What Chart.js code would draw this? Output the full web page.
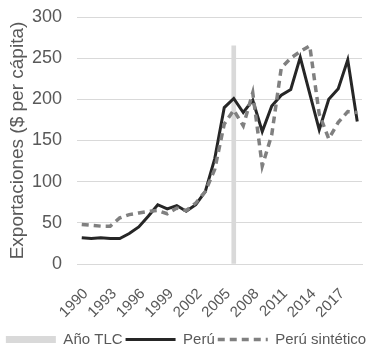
<!DOCTYPE html>
<html>
<head>
<meta charset="utf-8">
<script src="https://cdn.jsdelivr.net/npm/chart.js@4/dist/chart.umd.min.js"></script>
<style>
  html, body { margin: 0; padding: 0; background: #ffffff; }
  #wrap { width: 372px; height: 347px; }
</style>
</head>
<body>
<div id="wrap"><canvas id="chart"></canvas></div>
<script>
// Years on the category axis (every third one is labelled)
const years = ['1990','1991','1992','1993','1994','1995','1996','1997','1998','1999',
               '2000','2001','2002','2003','2004','2005','2006','2007','2008','2009',
               '2010','2011','2012','2013','2014','2015','2016','2017','2018','2019'];

// Exports per capita, Peru (observed)
const peru = [32, 31, 32, 31, 31, 37, 45, 58, 72, 67,
              71, 64, 72, 88, 128, 190, 201, 184, 199, 161,
              192, 205, 212, 251, 207, 163, 200, 213, 248, 173];

// Exports per capita, synthetic Peru
const peruSintetico = [48, 47, 46, 46, 56, 60, 62, 64, 65, 61,
                       68, 65, 74, 88, 115, 170, 187, 168, 208, 119,
                       157, 238, 250, 258, 265, 182, 152, 172, 185, 184];

// Year the trade agreement marker is drawn at, and the marker's height
const tlcYear = '2006';
const tlcHeight = 265;

// Y axis ticks
const yMin = 0, yMax = 300, yStep = 50;

const tlcData = years.map(y => (y === tlcYear ? tlcHeight : null));

const textColor = '#595959';
const fontFamily = "'Liberation Sans', Arial, sans-serif";

// Moves the legend row lower inside its box
const legendShift = {
  id: 'legendShift',
  afterLayout(chart) {
    const lg = chart.legend;
    if (lg) { lg.top += 10; lg.bottom += 10; }
  }
};

new Chart(document.getElementById('chart'), {
  data: {
    labels: years,
    datasets: [
      {
        type: 'bar',
        label: 'Año TLC',
        data: tlcData,
        backgroundColor: '#d9d9d9',
        borderWidth: 0,
        barThickness: 4,
        order: 2
      },
      {
        type: 'line',
        label: 'Perú',
        data: peru,
        borderColor: '#262626',
        borderWidth: 3,
        pointRadius: 0,
        tension: 0,
        fill: false,
        order: 1
      },
      {
        type: 'line',
        label: 'Perú sintético',
        data: peruSintetico,
        borderColor: '#808080',
        borderWidth: 3.5,
        borderDash: [7, 5],
        pointRadius: 0,
        tension: 0,
        fill: false,
        order: 0
      }
    ]
  },
  options: {
    responsive: true,
    maintainAspectRatio: false,
    animation: false,
    devicePixelRatio: 1,
    layout: { padding: { top: 17, left: 0, right: 0, bottom: 0 } },
    plugins: {
      tooltip: { enabled: false },
      legend: {
        position: 'bottom',
        labels: {
          color: textColor,
          font: { family: fontFamily, size: 15 },
          usePointStyle: true,
          pointStyleWidth: 50,
          padding: 3,
          generateLabels(chart) {
            const ds = chart.data.datasets;
            return [
              { text: ds[0].label, pointStyle: 'line', strokeStyle: '#d9d9d9', fillStyle: '#d9d9d9',
                lineWidth: 7, lineDash: [], lineCap: 'butt', fontColor: textColor, datasetIndex: 0 },
              { text: ds[1].label, pointStyle: 'line', strokeStyle: ds[1].borderColor, fillStyle: ds[1].borderColor,
                lineWidth: 3, lineDash: [], lineCap: 'butt', fontColor: textColor, datasetIndex: 1 },
              { text: ds[2].label, pointStyle: 'line', strokeStyle: ds[2].borderColor, fillStyle: ds[2].borderColor,
                lineWidth: 3.5, lineDash: [7, 5], lineCap: 'butt', fontColor: textColor, datasetIndex: 2 }
            ];
          }
        }
      }
    },
    scales: {
      x: {
        type: 'category',
        offset: true,
        grid: { display: false },
        border: { display: true, color: '#d9d9d9', width: 1 },
        ticks: {
          autoSkip: false,
          minRotation: 45,
          maxRotation: 45,
          padding: 13,
          labelOffset: 4,
          color: textColor,
          font: { family: fontFamily, size: 15 },
          callback(value, index) {
            return index % 3 === 0 ? this.getLabelForValue(value) : '';
          }
        },
        afterFit(scale) {
          scale.height = 55;
          scale.paddingLeft = 0;
          scale.paddingRight = 10;
        }
      },
      y: {
        min: yMin,
        max: yMax,
        grid: { color: '#d9d9d9', lineWidth: 1, drawTicks: false },
        border: { display: false },
        ticks: {
          stepSize: yStep,
          padding: 15,
          color: textColor,
          font: { family: fontFamily, size: 18 }
        },
        title: {
          display: true,
          text: 'Exportaciones ($ per cápita)',
          color: textColor,
          font: { family: fontFamily, size: 19 },
          padding: { top: 6, bottom: 0 }
        },
        afterFit(scale) {
          scale.width = 77;
          scale.paddingTop = 0;
          scale.paddingBottom = 0;
        }
      }
    }
  },
  plugins: [legendShift]
});
</script>
</body>
</html>
